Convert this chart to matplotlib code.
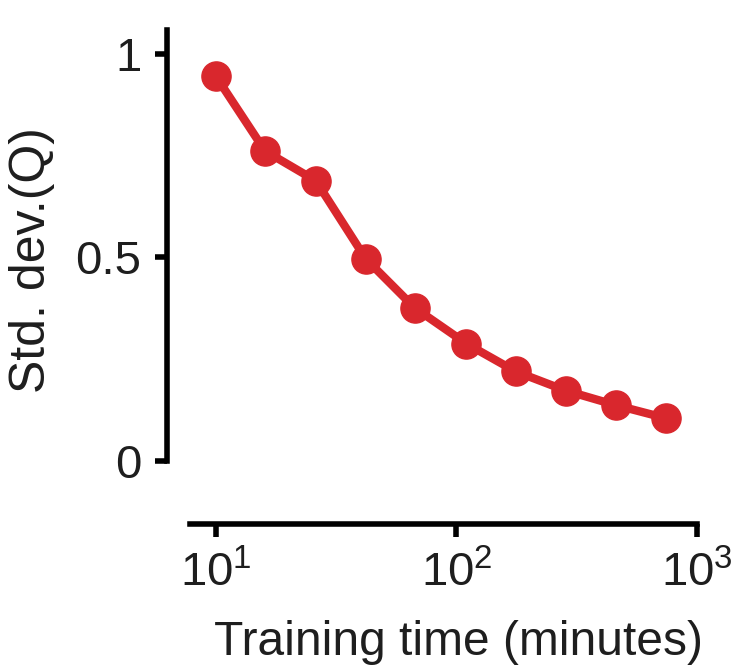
import numpy as np
import matplotlib
matplotlib.use("Agg")
import matplotlib.pyplot as plt

plt.rcParams['font.family'] = ['Liberation Sans', 'DejaVu Sans']

# === DATA ===
train_minutes = [10, 16, 26, 42, 67, 110, 176, 284, 460, 743]
std_q = [0.944, 0.761, 0.688, 0.496, 0.376, 0.288, 0.220, 0.173, 0.137, 0.105]

x_ticks = [10, 100, 1000]
x_ticklabels = [r'$\mathregular{10^{1}}$', r'$\mathregular{10^{2}}$', r'$\mathregular{10^{3}}$']
y_ticks = [0, 0.5, 1]
y_ticklabels = ['0', '0.5', '1']

red = '#d9272d'
ink = '#1e1e1e'

fig = plt.figure(figsize=(7.36, 6.67), dpi=100)
# axes box: x from 190 to 697 px, y from 30 to 461 px
ax = fig.add_axes([190/736, (667-461)/667, 507/736, 431/667])

ax.plot(train_minutes, std_q, color=red, lw=6, marker='o', ms=21,
        mec=red, mfc=red, clip_on=False)

ax.set_xscale('log')
ax.set_xlim(10**0.892, 1000)
ax.set_ylim(0, 1.058)

ax.set_xticks(x_ticks)
ax.set_xticklabels(x_ticklabels)
ax.minorticks_off()
ax.set_yticks(y_ticks)
ax.set_yticklabels(y_ticklabels)

for side in ['top', 'right']:
    ax.spines[side].set_visible(False)
for side in ['left', 'bottom']:
    ax.spines[side].set_linewidth(4)
    ax.spines[side].set_color('black')
ax.spines['left'].set_position(('outward', 16.5))
ax.spines['bottom'].set_position(('outward', 45))

ax.tick_params(axis='both', which='major', length=9, width=4,
               labelsize=34, color='black', labelcolor=ink)
ax.tick_params(axis='y', pad=9.5)
ax.tick_params(axis='x', pad=11)

ax.set_xlabel('Training time (minutes)', fontsize=34.5, color=ink, labelpad=17)
ax.set_ylabel('Std. dev.(Q)', fontsize=36, color=ink, labelpad=15)
ax.xaxis.label.set_x(0.529)
ax.yaxis.label.set_y(0.466)

fig.savefig('out.png', dpi=100)
